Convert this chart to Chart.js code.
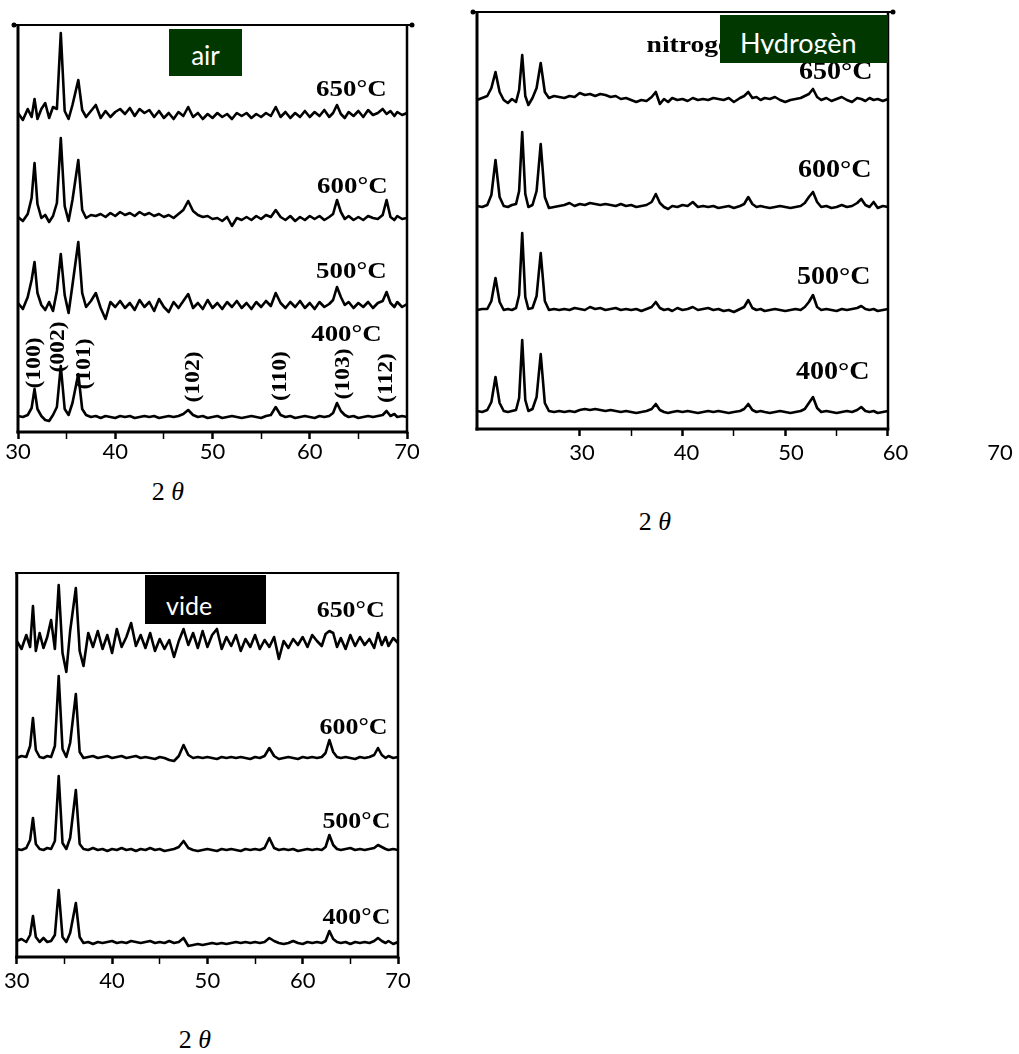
<!DOCTYPE html>
<html>
<head>
<meta charset="utf-8">
<script src="https://cdn.jsdelivr.net/npm/chart.js@4.4.1/dist/chart.umd.min.js"></script>
<style>
  body { margin: 0; background: #fff; width: 1019px; height: 1054px; position: relative; overflow: hidden; }
  canvas { position: absolute; }
  .axisTitle { position: absolute; font-family: "Liberation Serif", serif; font-size: 26px; transform: translate(-50%, -50%); white-space: nowrap; }
  .tag { position: absolute; overflow: hidden; }
  .tag span { position: absolute; color: #fff; font-family: Lato, sans-serif; white-space: nowrap; overflow: hidden; }
</style>
</head>
<body>
<canvas id="airChart" width="440" height="470" style="left:0px;top:0px"></canvas>
<canvas id="h2Chart" width="569" height="470" style="left:450px;top:0px"></canvas>
<canvas id="videChart" width="440" height="440" style="left:0px;top:560px"></canvas>

<div class="axisTitle" style="left:168px;top:492px">2 <i>θ</i></div>
<div class="axisTitle" style="left:655px;top:522px">2 <i>θ</i></div>
<div class="axisTitle" style="left:195px;top:1040px">2 <i>θ</i></div>

<div class="tag" style="left:169px;top:29px;width:73px;height:47px;background:#003800">
  <span style="left:0;width:73px;text-align:center;top:13px;font-size:26px;line-height:26px">air</span>
</div>
<div class="tag" style="left:720px;top:15px;width:168px;height:48px;background:#003800">
  <span style="left:20px;top:14px;height:25px;font-size:27px;line-height:27px">Hydrogèn</span>
</div>
<div class="tag" style="left:145px;top:575px;width:121px;height:49px;background:#000">
  <span style="left:21px;top:18px;font-size:25px;line-height:25px">vide</span>
</div>

<script>
// scans, one per annealing temperature
const sampleLabels = ["400°C", "500°C", "600°C", "650°C"];
const tickLabels = [30, 40, 50, 60, 70];
const millerLabels = ["(100)", "(002)", "(101)", "(102)", "(110)", "(103)", "(112)"];

// 2θ grid used by the air and vacuum panels
const twoThetaZnO = [
  30.0, 30.5, 31.0, 31.4, 31.7, 32.0, 32.4, 32.8, 33.2, 33.6,
  34.0, 34.4, 34.8, 35.2, 35.6, 36.2, 36.6, 37.0, 37.5, 38.0,
  38.5, 39.0, 39.5, 40.0, 40.5, 41.0, 41.5, 42.0, 42.5, 43.0,
  43.5, 44.0, 44.5, 45.0, 45.5, 46.0, 46.5, 47.0, 47.5, 48.0,
  48.5, 49.0, 49.5, 50.0, 50.5, 51.0, 51.5, 52.0, 52.5, 53.0,
  53.5, 54.0, 54.5, 55.0, 55.5, 56.0, 56.5, 57.0, 57.5, 58.0,
  58.5, 59.0, 59.5, 60.0, 60.5, 61.0, 61.5, 62.0, 62.4, 62.8,
  63.2, 63.6, 64.0, 64.5, 65.0, 65.5, 66.0, 66.5, 67.0, 67.5,
  67.9, 68.3, 68.7, 69.0, 69.5, 70.0
];

// air
const air400 = [
  1, 0, 2, 9, 28, 8, 1, -3, -4, 2,
  10, 51, 8, 2, 14, 43, 8, 2, 0, 1,
  -1, 1, 0, -1, 1, 0, 1, -1, 0, 1,
  0, 1, -1, 0, 1, 0, 1, 3, 7, 2,
  0, 1, -1, 0, 1, -1, 0, 1, 0, -1,
  0, 1, 0, -1, 1, 2, 10, 2, 0, 1,
  -1, 0, 1, 0, -1, 1, 0, 1, 4, 14,
  6, 2, 0, 1, -1, 0, 1, 0, 1, 2,
  6, 1, 3, 0, 1, 0
];
const air500 = [
  2, -4, 8, 25, 43, 12, 0, -5, 3, -6,
  14, 51, 10, -8, 20, 63, 12, -2, 4, 12,
  -3, -14, 3, -2, 4, -3, 2, -5, 5, -2,
  3, -6, 6, -2, -7, 3, -3, 4, 11, -3,
  2, -4, 5, -3, 2, -4, 3, -2, 4, -3,
  2, -4, 3, -2, 4, -1, 12, 2, -3, 3,
  -2, 4, -3, 2, -4, 3, -2, 1, 5, 18,
  8, 0, 3, -3, 2, -2, 3, -3, 2, 4,
  13, 2, -2, 3, -2, 1
];
const air600 = [
  1, -3, 4, 20, 55, 14, 0, 3, -4, 2,
  15, 80, 12, -3, 18, 58, 8, 0, 3, 2,
  4, 1, 5, 2, 6, 3, 5, 2, 6, 3,
  5, 2, 4, 1, 3, 0, 4, 8, 17, 7,
  3, 1, 2, -1, 0, -3, 1, -8, 0, -2,
  1, -2, 2, -1, 3, 1, 8, 1, -2, 2,
  -3, 1, -2, 2, -1, 2, -2, 1, 4, 18,
  6, -1, 2, -2, 1, -2, 2, 0, -1, 3,
  18, 1, -2, 2, -1, 0
];
const air650 = [
  2, -5, 6, -2, 16, -4, 6, 12, -3, 8,
  6, 82, 4, -4, 10, 35, 5, -2, 4, 10,
  -3, 4, -2, 3, 6, 1, 7, -1, 6, 2,
  5, -2, 4, -3, 2, -4, 3, -1, 8, -2,
  2, -4, 1, -3, 2, -2, 1, -4, 2, -1,
  2, -3, 1, -2, 2, -1, 8, -2, 3, -3,
  2, -2, 4, -2, 3, -1, 5, -2, 2, 10,
  1, -3, 3, -1, 4, -2, 5, 0, 2, 6,
  1, 4, -1, 3, 0, 2
];
const airOffsets = [15, 127, 214, 317];

// vacuum
const vide400 = [
  2, 4, 1, 8, 27, 6, 1, 5, 1, 2,
  8, 53, 6, 1, 10, 40, 6, 0, 1, -1,
  1, 0, 1, 2, 0, 1, 0, 2, 1, 0,
  1, 2, 0, 1, 0, 2, 0, 1, 5, -3,
  -2, -1, -2, -1, 0, -1, 0, -1, 0, 1,
  0, 1, 0, 1, 0, 1, 5, 2, 0, -1,
  0, 2, 0, -1, 1, 0, 1, 0, 2, 12,
  4, 1, 0, 1, -1, 1, 0, 1, 0, 2,
  5, 2, 0, 2, -1, 1
];
const vide500 = [
  1, 0, 2, 10, 32, 6, 1, 0, 2, 1,
  9, 74, 7, 1, 12, 60, 6, 1, 0, 2,
  0, 1, -1, 1, 0, 2, 0, 1, -1, 1,
  0, 2, 0, 1, -1, 0, 1, 3, 9, 2,
  0, -1, 0, 1, 0, -1, 1, 0, 1, 0,
  -1, 1, 0, 1, 0, 2, 12, 2, 0, 1,
  0, 1, -1, 0, 1, 0, 1, 0, 3, 15,
  5, 1, 0, 1, 2, 0, 1, 0, 1, 2,
  5, 3, 1, 0, 1, 0
];
const vide600 = [
  0, 2, 1, 12, 40, 8, 1, 0, 2, 1,
  12, 82, 9, 1, 15, 64, 6, 0, 1, 2,
  0, 1, 2, 0, 1, 2, 0, 1, 2, 0,
  1, 0, -1, 1, 0, -2, -3, 2, 13, 3,
  0, 1, 0, 1, 0, -1, 1, 0, 1, 0,
  1, 0, -1, 1, 0, 2, 10, 2, -1, 0,
  1, 0, -1, 1, 0, 1, 0, 1, 5, 18,
  6, 1, 0, 1, 0, -1, 1, 0, 1, 3,
  10, 3, 0, 2, 0, 1
];
const vide650 = [
  2, -6, 8, -4, 37, -8, 10, -5, 6, 23,
  -6, 58, -10, -29, 12, 55, -8, -23, 10, -4,
  12, -6, 8, -10, 14, -4, 6, 20, -3, 8,
  -5, 10, -8, 4, -6, 3, -14, 2, 14, -2,
  10, -5, 12, -4, 8, 14, -6, 6, -3, 8,
  -8, 4, -4, 8, -6, 3, -4, 6, -16, 2,
  -5, 4, -2, 6, -4, 8, 2, -3, 9, 12,
  10, -4, 5, -6, 8, -3, 6, -2, 4, -5,
  10, -2, 6, -3, 5, 0
];
const videOffsets = [14, 107, 199, 314];

// hydrogen / nitrogen panel, 2θ from 20 to 60
const twoThetaH2 = [
  20.0, 20.5, 21.0, 21.4, 21.8, 22.2, 22.6, 23.0, 23.4, 23.8,
  24.1, 24.4, 24.7, 25.0, 25.4, 25.8, 26.2, 26.6, 27.0, 27.5,
  28.0, 28.5, 29.0, 29.5, 30.0, 30.5, 31.0, 31.5, 32.0, 32.5,
  33.0, 33.5, 34.0, 34.5, 35.0, 35.5, 36.0, 36.5, 37.0, 37.4,
  37.8, 38.2, 38.6, 39.0, 39.5, 40.0, 40.5, 41.0, 41.5, 42.0,
  42.5, 43.0, 43.5, 44.0, 44.5, 45.0, 45.6, 46.0, 46.4, 46.8,
  47.2, 47.6, 48.0, 48.5, 49.0, 49.5, 50.0, 50.5, 51.0, 51.5,
  51.9, 52.3, 52.7, 53.1, 53.5, 54.0, 54.5, 55.0, 55.5, 56.0,
  56.5, 57.0, 57.4, 57.8, 58.2, 58.6, 59.0, 59.5, 60.0
];
const h2_400 = [
  1, 0, 2, 10, 35, 9, 1, 0, 1, 2,
  14, 72, 12, 1, 3, 15, 58, 9, 1, 0,
  1, 0, 1, 0, 2, 3, 2, 3, 2, 1,
  2, 1, 0, 1, 0, -1, 0, 1, 3, 8,
  2, 0, -1, 0, 1, 0, 1, 0, -1, 0,
  1, 0, 1, 0, -1, 0, 1, 3, 8, 2,
  0, 1, 0, -1, 0, 1, 0, -1, 0, 1,
  3, 9, 15, 4, 0, 1, 0, -1, 0, 1,
  0, 2, 5, 1, 0, 1, -1, 0, 1
];
const h2_500 = [
  0, 1, 1, 9, 32, 8, 0, 1, 0, 2,
  15, 77, 13, 1, 2, 14, 57, 9, 0, 1,
  0, 1, 0, 2, 1, 0, 3, 1, 2, 0,
  1, 2, 0, 1, 0, 1, -1, 1, 3, 8,
  2, 0, 1, -1, 2, 0, 1, 3, 0, 1,
  2, 0, 1, -1, 0, -2, 1, 3, 10, 2,
  0, 1, -1, 0, 1, 0, -1, 0, 1, 0,
  3, 8, 15, 3, 0, 1, 0, -1, 1, 0,
  1, 2, 4, 1, 0, 1, -1, 0, 1
];
const h2_600 = [
  1, 0, 2, 12, 47, 10, 1, 0, 2, 3,
  16, 75, 13, 0, 2, 16, 63, 10, -1, 0,
  1, 2, 4, 1, 3, 2, 4, 3, 2, 3,
  2, 1, 3, 1, 2, 0, 1, 2, 5, 13,
  4, 0, -2, 1, 0, 2, 1, 5, 0, 1,
  0, 1, -1, 0, 1, -1, 1, 3, 10, 3,
  0, 1, 0, -1, 0, 1, 0, -1, 0, 1,
  4, 10, 15, 5, 0, 1, -1, 0, 2, 0,
  1, 4, 8, 2, 0, 5, -1, 1, 0
];
const h2_650 = [
  0, 2, 4, 12, 28, 8, 0, -3, 1, -2,
  10, 45, 4, -5, 2, 12, 37, 8, 2, 4,
  3, 2, 4, 3, 7, 5, 6, 4, 6, 5,
  3, 4, 1, 2, 0, -2, 0, -1, 3, 8,
  -4, 1, -2, 2, 0, 1, -1, 2, 0, 1,
  0, 2, 1, 0, 2, -2, 2, 4, 8, 2,
  3, 0, 2, 1, 3, 0, -2, 0, 1, 2,
  4, 6, 11, 3, 0, 2, -1, 1, 3, 0,
  -2, 2, 1, -1, 2, 0, 1, -1, 1
];
const h2Offsets = [17, 119, 222, 329];

// ---------- helpers ----------

function scanDatasets(twoTheta, scans, offsets) {
  return scans.map((scan, i) => ({
    label: sampleLabels[i],
    data: twoTheta.map((t, j) => ({ x: t, y: scan[j] + offsets[i] })),
    borderColor: "#000",
    borderWidth: 2.6,
    borderJoinStyle: "round",
    pointRadius: 0,
    tension: 0
  }));
}

function thetaAxis(min, max, marks, showLabels, height, padding) {
  return {
    type: "linear",
    min: min,
    max: max,
    afterBuildTicks: s => { s.ticks = marks.map(v => ({ value: v })); },
    afterFit: s => { s.height = height; },
    border: { display: false },
    grid: {
      drawOnChartArea: false,
      drawTicks: true,
      tickLength: 7,
      tickColor: "#000",
      tickWidth: ctx => (ctx.tick && ctx.tick.value % 10 === 0 ? 2.5 : 1.5)
    },
    ticks: {
      autoSkip: false,
      maxRotation: 0,
      padding: padding,
      color: "#000",
      font: { family: "Lato", size: 22 },
      callback: v => (showLabels && tickLabels.includes(v) ? String(v) : "")
    }
  };
}

// frame, temperature labels and hkl labels
const panelDecor = {
  id: "panelDecor",
  afterDatasetsDraw(chart, args, opts) {
    const { ctx, chartArea } = chart;
    const x = chart.scales.x, y = chart.scales.y;
    const left = x.getPixelForValue(opts.frame[0]);
    const right = x.getPixelForValue(opts.frame[1]);
    const top = chartArea.top, bottom = chartArea.bottom;

    ctx.save();
    ctx.strokeStyle = "#000";
    ctx.fillStyle = "#000";
    const seg = (w, x1, y1, x2, y2) => {
      ctx.lineWidth = w;
      ctx.beginPath(); ctx.moveTo(x1, y1); ctx.lineTo(x2, y2); ctx.stroke();
    };
    seg(3, left, top - 1, left, bottom + 1.5);
    seg(2.5, right, top - 1, right, bottom + 1.5);
    seg(3, left - 1.5, bottom, right + 1.2, bottom);
    if (opts.dots) {
      seg(2, left - 4, top, right + 5, top);
      [left - 4, right + 5].forEach(px => {
        ctx.beginPath(); ctx.arc(px, top, 2.5, 0, Math.PI * 2); ctx.fill();
      });
    } else {
      seg(2, left - 1.5, top, right + 1.2, top);
    }

    (opts.texts || []).forEach(t => {
      ctx.save();
      ctx.font = t.font;
      ctx.textAlign = t.align || "center";
      ctx.textBaseline = "middle";
      ctx.translate(x.getPixelForValue(t.x), y.getPixelForValue(t.y));
      if (t.rotate) ctx.rotate(-Math.PI / 2);
      ctx.scale(t.stretch || 1, 1);
      ctx.fillText(t.text, 0, 0);
      ctx.restore();
    });
    ctx.restore();
  }
};

function tempTexts(xs, ys, size, stretch) {
  return sampleLabels.map((s, i) => ({
    text: s, x: xs[i], y: ys[i], align: "right",
    font: "bold " + size + "px 'Liberation Serif'", stretch: stretch
  }));
}

function baseOptions(padding, scales, decor) {
  return {
    responsive: false,
    animation: false,
    devicePixelRatio: 1,
    layout: { padding: padding },
    plugins: { legend: { display: false }, tooltip: { enabled: false }, panelDecor: decor },
    scales: scales
  };
}

// ---------- air ----------
const millerX = [31.75, 34.2, 36.9, 48.1, 57.0, 63.5, 67.9];
const millerY = [69, 85, 68, 55, 56, 58, 54];
const airTexts = tempTexts([67.4, 67.9, 68.0, 67.9], [97, 160, 245, 342], 24, 1.12)
  .concat(millerLabels.map((m, i) => ({
    text: m, x: millerX[i], y: millerY[i], rotate: true,
    font: "bold 20px 'Liberation Serif'", stretch: 1.18
  })));

new Chart(document.getElementById("airChart"), {
  type: "line",
  data: { datasets: scanDatasets(twoThetaZnO, [air400, air500, air600, air650], airOffsets) },
  options: baseOptions(
    { left: 18, right: 33, top: 25, bottom: 0 },
    {
      x: thetaAxis(30, 70, [30, 35, 40, 45, 50, 55, 60, 65, 70], true, 38, 0),
      y: { display: false, min: 0, max: 407 }
    },
    { frame: [30, 70], dots: true, texts: airTexts }
  ),
  plugins: [panelDecor]
});

// ---------- hydrogen ----------
const h2Texts = [{ text: "nitrogen", x: 36.5, y: 383, align: "left",
                   font: "bold 24px 'Liberation Serif'", stretch: 1.15 }]
  .concat(tempTexts([58.2, 58.3, 58.4, 58.5], [57, 152, 259, 357], 26, 1.08));

const h2Labels = thetaAxis(19.952, 70.478, tickLabels, true, 33, 3);
h2Labels.weight = 1;
h2Labels.grid = { display: false, drawTicks: false };

new Chart(document.getElementById("h2Chart"), {
  type: "line",
  data: { datasets: scanDatasets(twoThetaH2, [h2_400, h2_500, h2_600, h2_650], h2Offsets) },
  options: baseOptions(
    { left: 27, right: 14, top: 12, bottom: 0 },
    {
      x: thetaAxis(20, 71.387, [30, 35, 40, 45, 50, 55, 60], false, 8, 0),
      x2: h2Labels,
      y: { display: false, min: 0, max: 417 }
    },
    { frame: [20, 60], dots: true, texts: h2Texts }
  ),
  plugins: [panelDecor]
});

// ---------- vacuum ----------
new Chart(document.getElementById("videChart"), {
  type: "line",
  data: { datasets: scanDatasets(twoThetaZnO, [vide400, vide500, vide600, vide650], videOffsets) },
  options: baseOptions(
    { left: 14, right: 42, top: 13, bottom: 0 },
    {
      x: thetaAxis(30, 70, [30, 35, 40, 45, 50, 55, 60, 65, 70], true, 43, 4),
      y: { display: false, min: 0, max: 384 }
    },
    { frame: [30, 70], dots: false, texts: tempTexts([69.2, 69.2, 68.9, 68.6], [39, 135, 229, 346], 24, 1.08) }
  ),
  plugins: [panelDecor]
});
</script>
</body>
</html>
